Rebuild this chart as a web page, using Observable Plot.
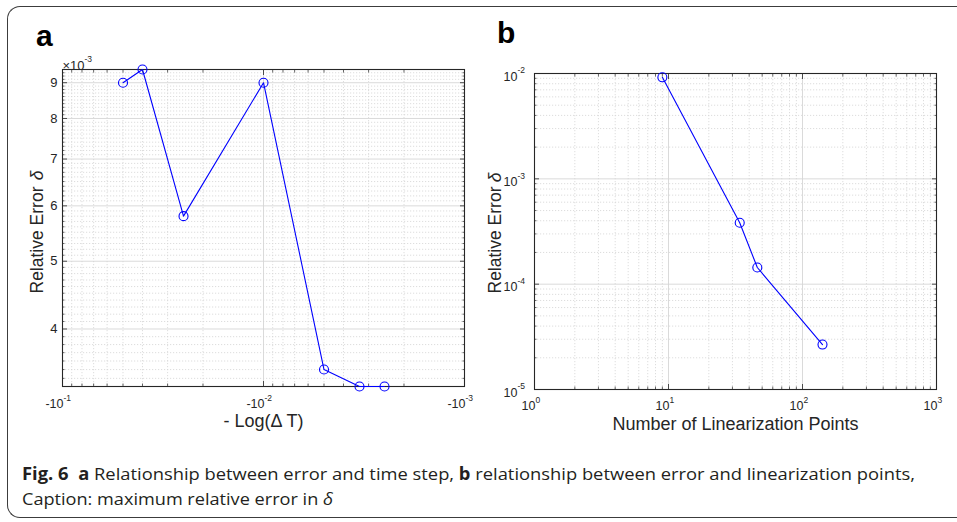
<!DOCTYPE html>
<html><head><meta charset="utf-8">
<script src="https://cdn.jsdelivr.net/npm/d3@7"></script>
<script src="https://cdn.jsdelivr.net/npm/@observablehq/plot@0.6"></script>
<style>
body{margin:0;background:#fff;}
#wrap{position:relative;width:957px;height:522px;overflow:hidden;font-family:"Liberation Sans",Arial,sans-serif;background:#fff;}
#border{position:absolute;left:7px;top:6px;width:1000px;height:512px;border:1.5px solid #3c3c3c;border-right:none;border-radius:13px 0 0 13px;box-sizing:border-box;}
.panel{position:absolute;top:0;}
.lbl{position:absolute;font-weight:bold;font-size:30px;font-family:"Liberation Sans",Arial,sans-serif;color:#000;line-height:1;}
#cap{position:absolute;left:0;top:455px;}
</style></head>
<body>
<div id="wrap">
  <div id="border"></div>
  <div id="pa" class="panel" style="left:0"></div>
  <div id="pb" class="panel" style="left:480px"></div>
  <div class="lbl" style="left:36px;top:21px">a</div>
  <div class="lbl" style="left:497px;top:18px">b</div>
  <svg id="cap" width="957" height="67">
    <text x="22" y="25" textLength="893" lengthAdjust="spacingAndGlyphs" font-family="Open Sans" font-size="17" fill="#231f20"><tspan font-weight="bold">Fig. 6</tspan><tspan dx="9" font-weight="bold">a</tspan> Relationship between error and time step, <tspan font-weight="bold">b</tspan> relationship between error and linearization points,</text>
    <text x="22" y="50" textLength="311" lengthAdjust="spacingAndGlyphs" font-family="Open Sans" font-size="17" fill="#231f20">Caption: maximum relative error in <tspan font-style="italic">δ</tspan></text>
  </svg>
</div>
<script>
// ---- data ----
const timeSteps = [-0.05, -0.04, -0.025, -0.01, -0.005, -0.00333, -0.0025];
const errorA    = [9.0e-3, 9.4e-3, 5.8e-3, 9.0e-3, 3.5e-3, 3.31e-3, 3.31e-3];
const linPoints = [9, 34, 46, 141];
const errorB    = [9.2e-3, 3.83e-4, 1.44e-4, 2.67e-5];

// ---- tick values / labels ----
const xTicksA = [-0.1, -0.01, -0.001];
const xTickExpA = ["-1", "-2", "-3"];
const yTicksA = [4e-3, 5e-3, 6e-3, 7e-3, 8e-3, 9e-3];
const yTickLabA = ["4", "5", "6", "7", "8", "9"];
const xTicksB = [1, 10, 100, 1000];
const xTickExpB = ["0", "1", "2", "3"];
const yTicksB = [1e-5, 1e-4, 1e-3, 1e-2];
const yTickExpB = ["-5", "-4", "-3", "-2"];

const FONT = "Liberation Sans, Arial, sans-serif";
const BLUE = "#0000ff";
const AX = "#262626";

function logMinor(lo, hi, sign = 1) {
  const out = [];
  for (let e = lo; e < hi; e++) for (let m = 2; m <= 9; m++) out.push(sign * m * Math.pow(10, e));
  return out;
}
const xMinorA = logMinor(-3, -1, -1);
const yMinorA = d3.range(34, 94).map(v => v / 10 * 1e-3).filter(v => !yTicksA.some(t => Math.abs(t - v) < 1e-9));
const xMinorB = logMinor(0, 3);
const yMinorB = logMinor(-5, -2);

function frameMarks(xMajor, xMinor, yMajor, yMinor) {
  return [
    Plot.ruleX(xMinor, {x: d => d, stroke: "#d4d4d4", strokeWidth: 0.8, strokeDasharray: "1.2,1.8"}),
    Plot.ruleY(yMinor, {y: d => d, stroke: "#d4d4d4", strokeWidth: 0.8, strokeDasharray: "1.2,1.8"}),
    Plot.ruleX(xMajor, {x: d => d, stroke: "#d6d6d6", strokeWidth: 0.9}),
    Plot.ruleY(yMajor, {y: d => d, stroke: "#d6d6d6", strokeWidth: 0.9}),
    Plot.axisX(xMajor, {anchor: "bottom", tickSize: -5, tickFormat: () => "", label: null, stroke: AX, strokeWidth: 0.8}),
    Plot.axisX(xMajor, {anchor: "top", tickSize: -5, tickFormat: () => "", label: null, stroke: AX, strokeWidth: 0.8}),
    Plot.axisX(xMinor, {anchor: "bottom", tickSize: -2.5, tickFormat: () => "", label: null, stroke: AX, strokeWidth: 0.7}),
    Plot.axisX(xMinor, {anchor: "top", tickSize: -2.5, tickFormat: () => "", label: null, stroke: AX, strokeWidth: 0.7}),
    Plot.axisY(yMajor, {anchor: "left", tickSize: -5, tickFormat: () => "", label: null, stroke: AX, strokeWidth: 0.8}),
    Plot.axisY(yMajor, {anchor: "right", tickSize: -5, tickFormat: () => "", label: null, stroke: AX, strokeWidth: 0.8}),
    Plot.axisY(yMinor, {anchor: "left", tickSize: -2.5, tickFormat: () => "", label: null, stroke: AX, strokeWidth: 0.7}),
    Plot.axisY(yMinor, {anchor: "right", tickSize: -2.5, tickFormat: () => "", label: null, stroke: AX, strokeWidth: 0.7}),
    Plot.frame({stroke: AX, strokeWidth: 1.1})
  ];
}

const idxA = d3.range(timeSteps.length);
const idxB = d3.range(linPoints.length);

const plotA = Plot.plot({
  width: 480, height: 440,
  marginLeft: 62, marginRight: 16, marginTop: 69, marginBottom: 54,
  x: {type: "log", domain: [-0.1, -0.001]},
  y: {type: "log", domain: d3.extent(errorA)},
  style: {fontFamily: FONT, background: "transparent", overflow: "visible", color: "#262626"},
  marks: [
    ...frameMarks(xTicksA, xMinorA, yTicksA, yMinorA),
    Plot.line(idxA, {x: i => timeSteps[i], y: i => errorA[i], stroke: BLUE, strokeWidth: 1.1}),
    Plot.dot(idxA, {x: i => timeSteps[i], y: i => errorA[i], r: 4.5, stroke: BLUE, fill: "none", strokeWidth: 1.1}),
    // x tick labels  -10^k
    Plot.text(xTicksA, {x: d => d, text: () => "-10", frameAnchor: "bottom", textAnchor: "end", dx: 1, dy: 21, fontSize: 12.5, fill: AX}),
    Plot.text(xTicksA, {x: d => d, text: (d, i) => xTickExpA[i], frameAnchor: "bottom", textAnchor: "start", dx: 1, dy: 14, fontSize: 8.5, fill: AX}),
    // y tick labels
    Plot.text(yTicksA, {y: d => d, text: (d, i) => yTickLabA[i], frameAnchor: "left", textAnchor: "end", dx: -5, fontSize: 13, fill: AX}),
    // exponent multiplier
    Plot.text(["×10"], {text: d => d, frameAnchor: "top-left", textAnchor: "start", dx: 0, dy: -9, fontSize: 13, fill: AX}),
    Plot.text(["-3"], {text: d => d, frameAnchor: "top-left", textAnchor: "start", dx: 22, dy: -14, fontSize: 8.5, fill: AX}),
    // axis labels
    Plot.text(["- Log(Δ T)"], {text: d => d, frameAnchor: "bottom", dy: 40, fontSize: 18, fill: AX}),
    Plot.text(["Relative Error"], {text: d => d, frameAnchor: "top-left", rotate: -90, textAnchor: "start", dx: -32, dy: 224, fontSize: 17.5, fill: AX}),
    Plot.text(["δ"], {text: d => d, frameAnchor: "top-left", rotate: -90, textAnchor: "end", dx: -32, dy: 101, fontSize: 17.5, fontStyle: "italic", fill: AX})
  ]
});
document.getElementById("pa").appendChild(plotA);

const plotB = Plot.plot({
  width: 477, height: 440,
  marginLeft: 54, marginRight: 21, marginTop: 73, marginBottom: 51,
  x: {type: "log", domain: [1, 1000]},
  y: {type: "log", domain: [1e-5, 1e-2]},
  style: {fontFamily: FONT, background: "transparent", overflow: "visible", color: "#262626"},
  marks: [
    ...frameMarks(xTicksB, xMinorB, yTicksB, yMinorB),
    Plot.line(idxB, {x: i => linPoints[i], y: i => errorB[i], stroke: BLUE, strokeWidth: 1.1}),
    Plot.dot(idxB, {x: i => linPoints[i], y: i => errorB[i], r: 4.5, stroke: BLUE, fill: "none", strokeWidth: 1.1}),
    Plot.text(xTicksB, {x: d => d, text: () => "10", frameAnchor: "bottom", textAnchor: "end", dx: 1, dy: 20, fontSize: 12.5, fill: AX}),
    Plot.text(xTicksB, {x: d => d, text: (d, i) => xTickExpB[i], frameAnchor: "bottom", textAnchor: "start", dx: 1, dy: 13, fontSize: 8.5, fill: AX}),
    Plot.text(yTicksB, {y: d => d, text: () => "10", frameAnchor: "left", textAnchor: "end", dx: -17, dy: 3, fontSize: 12.5, fill: AX}),
    Plot.text(yTicksB, {y: d => d, text: (d, i) => yTickExpB[i], frameAnchor: "left", textAnchor: "start", dx: -17, dy: -3, fontSize: 8.5, fill: AX}),
    Plot.text(["Number of Linearization Points"], {text: d => d, frameAnchor: "bottom", dy: 40, fontSize: 18, fill: AX}),
    Plot.text(["Relative Error"], {text: d => d, frameAnchor: "top-left", rotate: -90, textAnchor: "start", dx: -46, dy: 220, fontSize: 17.5, fill: AX}),
    Plot.text(["δ"], {text: d => d, frameAnchor: "top-left", rotate: -90, textAnchor: "end", dx: -46, dy: 99, fontSize: 17.5, fontStyle: "italic", fill: AX})
  ]
});
document.getElementById("pb").appendChild(plotB);
</script>
</body></html>
